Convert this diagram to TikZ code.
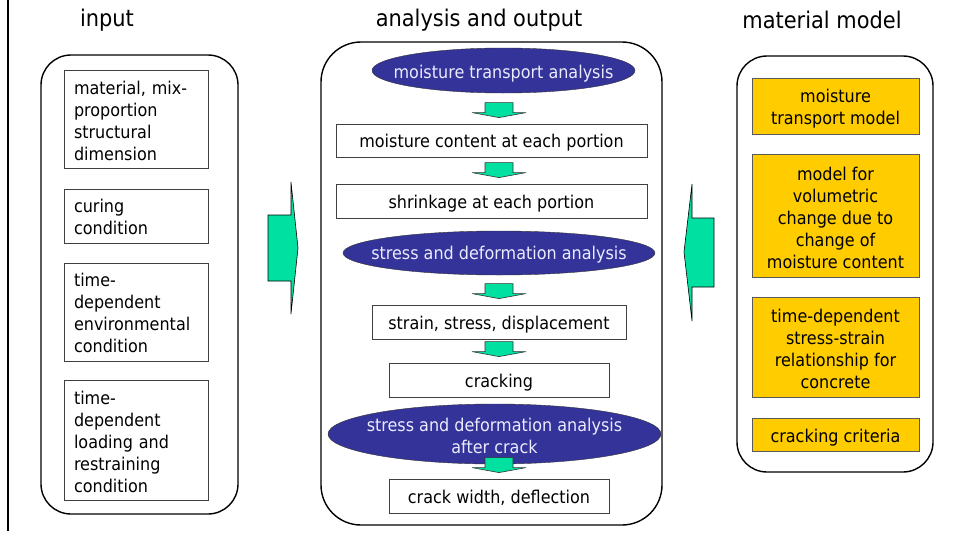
\documentclass[tikz,border=0pt]{standalone}
\usepackage{fontspec}
\setmainfont{DejaVu Sans}[FakeStretch=0.91]
\usepackage{tikz}
\usetikzlibrary{shapes.geometric,positioning,calc}

\definecolor{arrowgreen}{RGB}{0,224,160}
\definecolor{ellblue}{RGB}{51,51,153}
\definecolor{modelyellow}{RGB}{255,204,0}
\definecolor{elltext}{RGB}{235,235,255}

% small block arrow, tip just above node #1
\newcommand{\flowarrow}[1]{%
  \draw[flowtip] ([yshift=6pt]#1.north -| arrowx) -- ++(-27,-5) -- ++(13,0) -- ++(0,-10)
     -- ++(28,0) -- ++(0,10) -- ++(13,0) -- cycle;}

\begin{document}
\begin{tikzpicture}[x=1pt,y=-1pt]
% STYLES
\tikzset{
    title/.style={font=\fontsize{23}{28}\selectfont},
    outer/.style={draw, line width=1.4pt, rounded corners=30pt, inner sep=0pt},
    txt/.style={inner sep=0pt, font=\fontsize{17.6}{22}\selectfont},
    inbox/.style={draw=black!75, line width=0.8pt, fill=white, inner sep=0pt, minimum width=144},
    intxt/.style={txt, text width=124, align=left},
    midbox/.style={draw=black!75, line width=0.8pt, fill=white, inner sep=0pt, minimum height=34},
    ellip/.style={ellipse, draw=black!80, fill=ellblue, inner sep=0pt},
    elltxt/.style={txt, text=elltext, align=center},
    model/.style={draw=black!65, line width=0.8pt, fill=modelyellow, inner sep=0pt, minimum width=167},
    modeltxt/.style={txt, align=center},
    flowtip/.style={draw=black!80, line width=0.6pt, fill=arrowgreen, line join=miter},
    bigarrow/.style={draw=black, line width=0.6pt, fill=arrowgreen}
}
\useasboundingbox (0,0) rectangle (955,533);
\draw[line width=1.4pt] (8,0) -- (8,531);

% titles
\node[title] (inputT) at (107,20) {input};
\node[title] (analysisT) at (479,20) {analysis and output};
\node[title] (modelT) at (822,20) {material model};

% input column
\node[outer, minimum width=197, minimum height=459] (inputbox) at (139.5,284.5) {};
\node[inbox, minimum height=98] (mix) at (136,119) {};
\node[intxt] (mixT) at ([yshift=-2pt]mix) {material, mix-\\proportion\\structural\\dimension};
\node[inbox, minimum height=54] (curing) at (136,216) {};
\node[intxt] (curingT) at ([yshift=-1pt]curing) {curing\\condition};
\node[inbox, minimum height=98] (env) at (136,312) {};
\node[intxt] (envT) at ([yshift=-1pt]env) {time-\\dependent\\environmental\\condition};
\node[inbox, minimum height=120] (load) at (136,440) {};
\node[intxt] (loadT) at ([yshift=-2pt]load) {time-\\dependent\\loading and\\restraining\\condition};

% analysis column
\node[outer, rounded corners=40pt, minimum width=341, minimum height=483] (analysisbox) at (491.5,283.5) {};
\coordinate (arrowx) at (499,0);
\node[ellip, minimum width=263, minimum height=45] (mtaE) at (503.5,70.5) {};
\node[elltxt] (mta) at ([yshift=-3pt]mtaE) {moisture transport analysis};
\node[midbox, minimum width=311, minimum height=33] (content) at (491.5,140.5) {};
\node[txt] (contentT) at ([yshift=-2pt]content) {moisture content at each portion};
\node[midbox, minimum width=311] (shrink) at (491.5,201) {};
\node[txt] (shrinkT) at ([yshift=-3pt]shrink) {shrinkage at each portion};
\node[ellip, minimum width=312, minimum height=44] (sdaE) at (499,253) {};
\node[elltxt] (sda) at ([yshift=-2pt]sdaE) {stress and deformation analysis};
\node[midbox, minimum width=254] (strain) at (499,322) {};
\node[txt] (strainT) at ([yshift=-3pt]strain) {strain, stress, displacement};
\node[midbox, minimum width=220] (crack) at (499,380) {};
\node[txt] (crackT) at ([yshift=-3pt]crack) {cracking};
\node[ellip, minimum width=333, minimum height=60] (afterE) at (494.5,434) {};
\node[elltxt] (after) at ([yshift=-2pt]afterE) {stress and deformation analysis\\after crack};
\node[midbox, minimum width=220] (width) at (499,496) {};
\node[txt] (widthT) at ([yshift=-2pt]width) {crack width, deflection};

% Draw the arrows between
\flowarrow{content}
\flowarrow{shrink}
\flowarrow{strain}
\flowarrow{crack}
\flowarrow{width}

% material model column
\node[outer, minimum width=196, minimum height=416] (modelbox) at (835,264) {};
\node[model, minimum height=56] (transport) at (835.5,106) {};
\node[modeltxt] (transportT) at ([yshift=-3pt]transport) {moisture\\transport model};
\node[model, minimum height=123] (volume) at (835.5,215.5) {};
\node[modeltxt] (volumeT) at ([yshift=-2pt]volume) {model for\\volumetric\\change due to\\change of\\moisture content};
\node[model, minimum height=100] (relation) at (835.5,347) {};
\node[modeltxt] (relationT) at ([yshift=-2pt]relation) {time-dependent\\stress-strain\\relationship for\\concrete};
\node[model, minimum height=33] (criteria) at (835.5,434.5) {};
\node[modeltxt] (criteriaT) at ([yshift=-3pt]criteria) {cracking criteria};

% big arrows
\draw[bigarrow] (268,215) -- (291,215) -- (291,182) -- (298,248) -- (291,314) -- (291,281) -- (268,281) -- cycle;
\draw[bigarrow] (714,218) -- (692,218) -- (692,184) -- (684,252) -- (692,321) -- (692,287) -- (714,287) -- cycle;
\end{tikzpicture}
\end{document}
